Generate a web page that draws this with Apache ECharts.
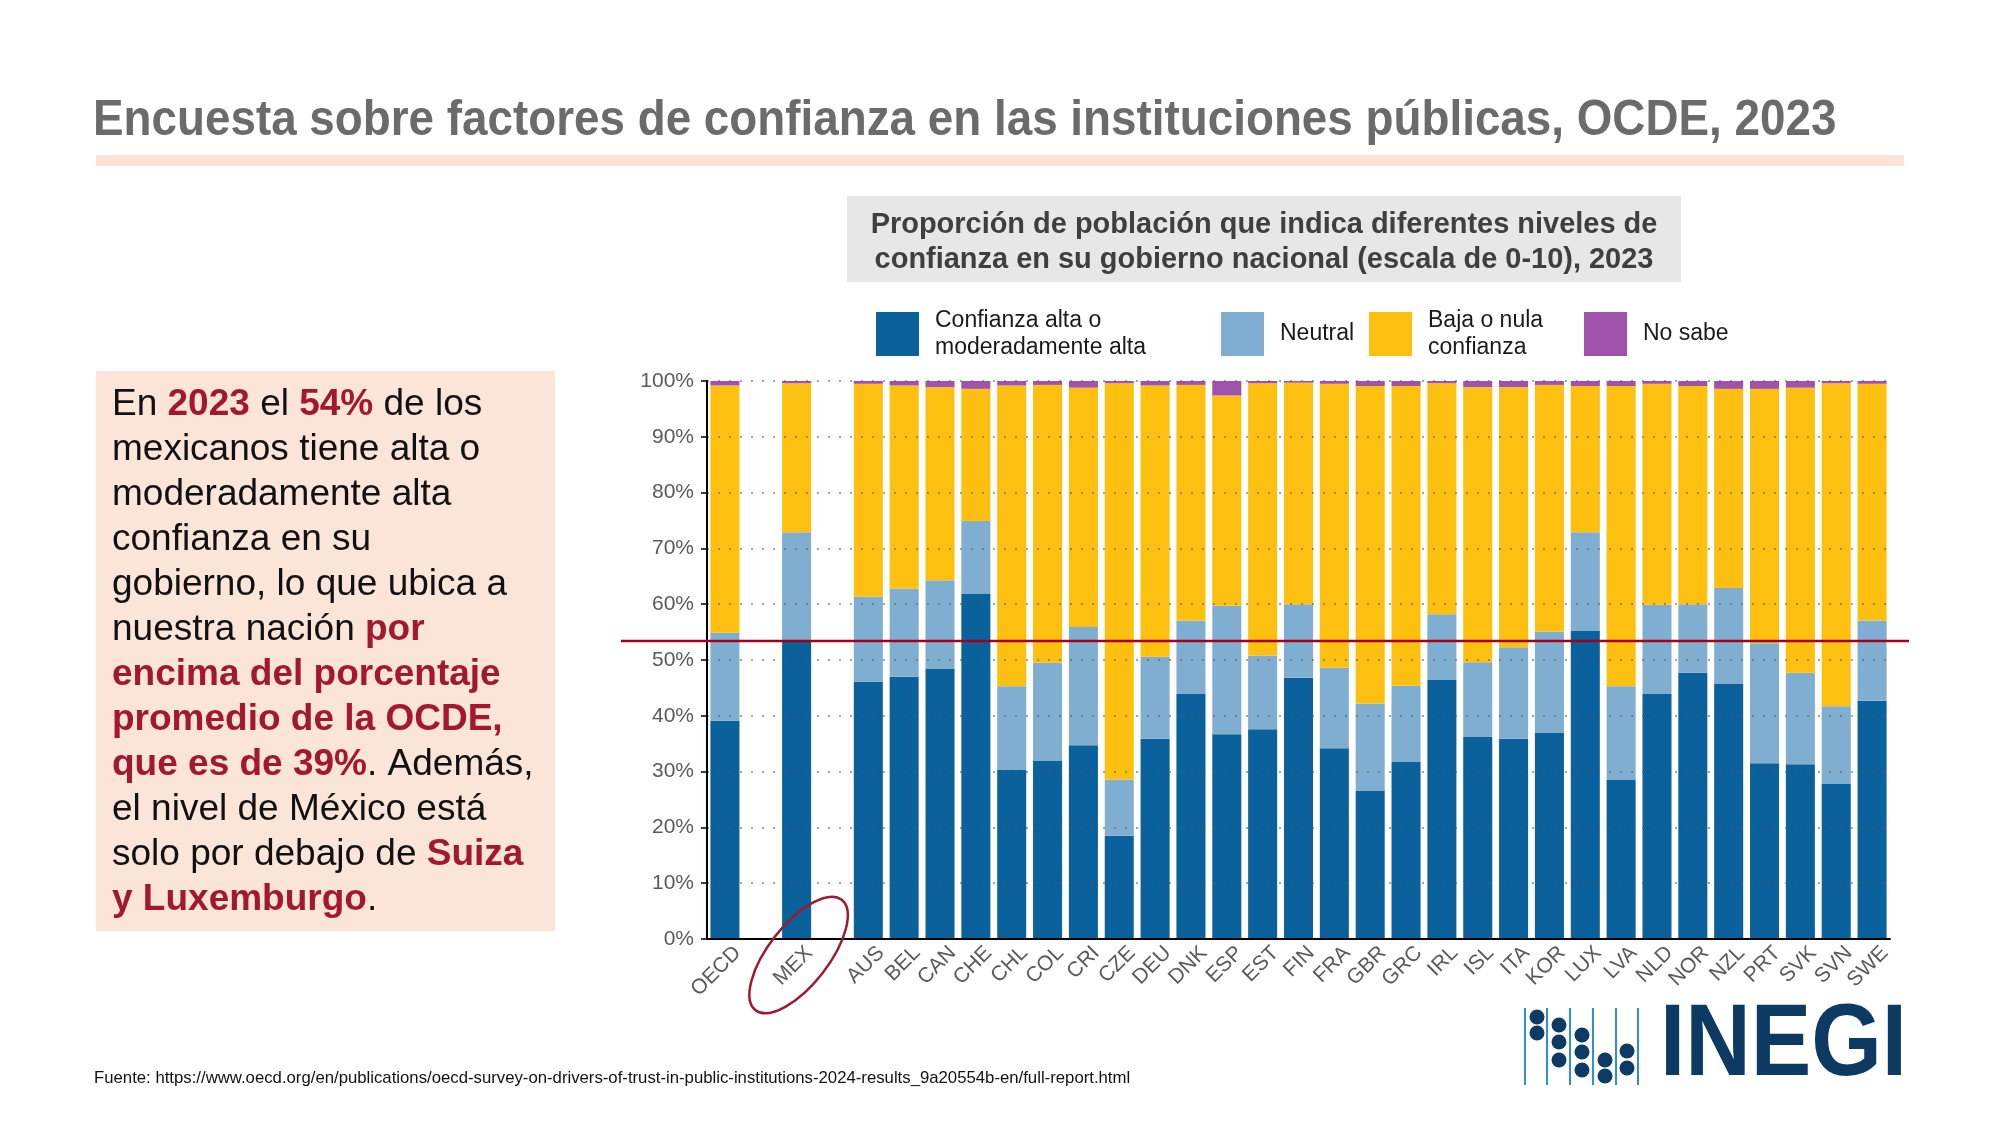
<!DOCTYPE html>
<html><head><meta charset="utf-8">
<script src="https://cdn.jsdelivr.net/npm/echarts@6/dist/echarts.min.js"></script>
<style>html,body{margin:0;padding:0;background:#fff}#c{width:2000px;height:1125px}</style>
</head><body><div id="c"></div>
<script>
// ---------------- DATA ----------------
const countries = ['OECD','MEX','AUS','BEL','CAN','CHE','CHL','COL','CRI','CZE','DEU','DNK','ESP','EST','FIN','FRA','GBR','GRC','IRL','ISL','ITA','KOR','LUX','LVA','NLD','NOR','NZL','PRT','SVK','SVN','SWE'];
const highTrust = [39.1,53.5,46.1,47.0,48.4,61.9,30.3,31.9,34.7,18.5,35.9,43.9,36.7,37.6,46.8,34.2,26.6,31.7,46.5,36.2,35.9,37.0,55.3,28.6,43.9,47.7,45.7,31.5,31.3,27.8,42.7];
const neutral   = [15.8,19.4,15.3,15.8,15.9,13.0,15.0,17.6,21.2,10.1,14.7,13.2,23.0,13.2,13.2,14.4,15.6,13.7,11.7,13.4,16.4,18.1,17.6,16.7,16.0,12.3,17.2,21.5,16.4,13.9,14.4];
const lowTrust  = [44.3,26.7,38.1,36.4,34.6,23.7,53.9,49.8,42.9,71.0,48.6,42.2,37.7,48.8,39.7,50.9,56.9,53.7,41.4,49.3,46.6,44.2,26.2,53.8,39.6,39.1,35.7,45.6,51.1,57.9,42.4];
const dontKnow  = [0.8,0.4,0.5,0.8,1.1,1.4,0.8,0.7,1.2,0.4,0.8,0.7,2.6,0.4,0.3,0.5,0.9,0.9,0.4,1.1,1.1,0.7,0.9,0.9,0.5,0.9,1.4,1.4,1.2,0.4,0.5];
const seriesNames  = ['Confianza alta o moderadamente alta','Neutral','Baja o nula confianza','No sabe'];
const legendLabels = ['Confianza alta o\nmoderadamente alta','Neutral','Baja o nula\nconfianza','No sabe'];
const gapAfter = ['OECD','MEX'];
const highlighted = 'MEX';
const referenceLevel = 53.4;   // Mexico's high-trust share, drawn as the red line
const yMin = 0, yMax = 100, yStep = 10;

const titleText = 'Encuesta sobre factores de confianza en las instituciones públicas, OCDE, 2023';
const subtitleLines = ['Proporción de población que indica diferentes niveles de','confianza en su gobierno nacional (escala de 0-10), 2023'];
const boxLines = [
 '{n|En }{r|2023}{n| el }{r|54%}{n| de los}',
 '{n|mexicanos tiene alta o}',
 '{n|moderadamente alta}',
 '{n|confianza en su}',
 '{n|gobierno, lo que ubica a}',
 '{n|nuestra nación }{r|por}',
 '{r|encima del porcentaje}',
 '{r|promedio de la OCDE,}',
 '{r|que es de 39%}{n|. Además,}',
 '{n|el nivel de México está}',
 '{n|solo por debajo de }{r|Suiza}',
 '{r|y Luxemburgo}{n|.}'
];
const sourceText = 'Fuente: https://www.oecd.org/en/publications/oecd-survey-on-drivers-of-trust-in-public-institutions-2024-results_9a20554b-en/full-report.html';

// ---------------- BUILD ----------------
const FAM = "'Liberation Sans', Arial, sans-serif";
const mctx = document.createElement('canvas').getContext('2d');
function fitSize(text, weight, target){ mctx.font = weight + ' 100px ' + FAM; return 100 * target / mctx.measureText(text).width; }

const cats = [], idxMap = [];
countries.forEach((c, i) => {
  cats.push(c); idxMap.push(i);
  if (gapAfter.includes(c)) { cats.push(' '.repeat(cats.length)); idxMap.push(-1); }
});
const pick = arr => idxMap.map(i => i < 0 ? null : arr[i]);
const colors = ['#0a619c', '#80aed0', '#fdc010', '#9f52a9'];
const values = [highTrust, neutral, lowTrust, dontKnow];

const legendLeft = [876, 1221, 1369, 1584];
const legendTop = [307, 312, 307, 312];

const chart = echarts.init(document.getElementById('c'), null, {renderer: 'canvas'});
const option = {
  animation: false,
  backgroundColor: '#ffffff',
  grid: {left: 707, right: 110, top: 381, bottom: 186, containLabel: false},
  legend: seriesNames.map((n, i) => ({
    data: [n], left: legendLeft[i], top: legendTop[i], padding: 0, itemGap: 0,
    itemWidth: 43, itemHeight: 44, icon: 'rect', selectedMode: false,
    formatter: name => legendLabels[seriesNames.indexOf(name)],
    textStyle: {fontFamily: FAM, fontSize: 23, lineHeight: 27, color: '#1a1a1a', padding: [0, 0, 0, 11]}
  })),
  xAxis: {
    type: 'category', data: cats, boundaryGap: true, z: 3,
    axisLine: {lineStyle: {color: '#000', width: 2}},
    axisTick: {show: false},
    axisLabel: {rotate: 45, interval: 0, margin: -2, verticalAlign: 'top', lineHeight: 36, fontFamily: FAM, fontSize: 21, color: '#5a5a5a'}
  },
  yAxis: {
    type: 'value', min: yMin, max: yMax, interval: yStep, z: 3,
    axisLine: {show: true, lineStyle: {color: '#000', width: 2}},
    axisTick: {show: true, length: 6, lineStyle: {color: '#000', width: 1.5}},
    axisLabel: {formatter: '{value}%', margin: 13, fontFamily: FAM, fontSize: 21, color: '#5a5a5a'},
    splitLine: {show: true, lineStyle: {color: 'rgba(90,90,90,0.55)', width: 2, type: [2, 9]}}
  },
  series: seriesNames.map((n, i) => ({
    name: n, type: 'bar', stack: 'total', barWidth: '81%',
    itemStyle: {color: colors[i]}, data: pick(values[i])
  }))
};
chart.setOption(option);

const titleSize = fitSize(titleText, 'bold', 1744);
const subSize = fitSize(subtitleLines[0], 'bold', 787);
const srcSize = fitSize(sourceText, 'normal', 1037);

const yRef = chart.convertToPixel({yAxisIndex: 0}, referenceLevel);
const xMex = chart.convertToPixel({xAxisIndex: 0}, cats.indexOf(highlighted));
const yBase = chart.convertToPixel({yAxisIndex: 0}, yMin);

const graphic = [
  {type: 'text', x: 93, y: 121, scaleY: 1.1, style: {text: titleText, font: 'bold ' + titleSize + 'px ' + FAM, fill: '#6b6b6b', verticalAlign: 'middle'}},
  {type: 'rect', shape: {x: 96, y: 155, width: 1808, height: 11}, style: {fill: '#fbe3d5'}},
  {type: 'rect', shape: {x: 847, y: 196, width: 834, height: 86}, style: {fill: '#e7e7e7'}},
  {type: 'text', x: 1264, y: 243, style: {text: subtitleLines.join('\n'), font: 'bold ' + subSize + 'px ' + FAM, lineHeight: 35, fill: '#3f3f3f', align: 'center', verticalAlign: 'middle'}},
  {type: 'rect', shape: {x: 96, y: 371, width: 459, height: 560}, style: {fill: '#fbe4d8'}},
  {type: 'text', x: 112, y: 382, style: {
    text: boxLines.join('\n'), verticalAlign: 'top',
    rich: {
      n: {fontFamily: FAM, fontSize: 37, lineHeight: 45, fill: '#111111', color: '#111111'},
      r: {fontFamily: FAM, fontSize: 37, lineHeight: 45, fontWeight: 'bold', fill: '#a3172f', color: '#a3172f'}
    }}},
  {type: 'text', x: 94, y: 1078, style: {text: sourceText, font: srcSize + 'px ' + FAM, fill: '#111', verticalAlign: 'middle'}},
  // reference line
  {type: 'line', z: 10, shape: {x1: 621, y1: yRef, x2: 1909, y2: yRef}, style: {stroke: '#a3001b', lineWidth: 2.5}},
  // ellipse round highlighted label
  {type: 'ellipse', z: 10, x: xMex + 2, y: yBase + 16, rotation: 52 * Math.PI / 180,
   shape: {cx: 0, cy: 0, rx: 70, ry: 30}, style: {fill: 'none', stroke: '#9b1b30', lineWidth: 2.5}}
];

// INEGI logo
const lineXs = [1525, 1547, 1570, 1593, 1616, 1638];
lineXs.forEach(x => graphic.push({type: 'line', shape: {x1: x, y1: 1008, x2: x, y2: 1085}, style: {stroke: '#2f8fd3', lineWidth: 2}}));
const dots = [[1537,1017],[1537,1033],[1559,1025],[1559,1042],[1559,1060],[1582,1035],[1582,1052],[1582,1070],[1605,1060],[1605,1076],[1627,1051],[1627,1068]];
dots.forEach(d => graphic.push({type: 'circle', shape: {cx: d[0], cy: d[1], r: 7.5}, style: {fill: '#0d3b63'}}));
const logoSize = 102;
mctx.font = 'bold ' + logoSize + 'px ' + FAM;
const logoW = mctx.measureText('INEGI').width;
graphic.push({type: 'text', x: 1660, y: 1047, scaleX: 247 / logoW,
  style: {text: 'INEGI', font: 'bold ' + logoSize + 'px ' + FAM, fill: '#0c3a63', verticalAlign: 'middle'}});

chart.setOption({graphic: graphic});
</script></body></html>
